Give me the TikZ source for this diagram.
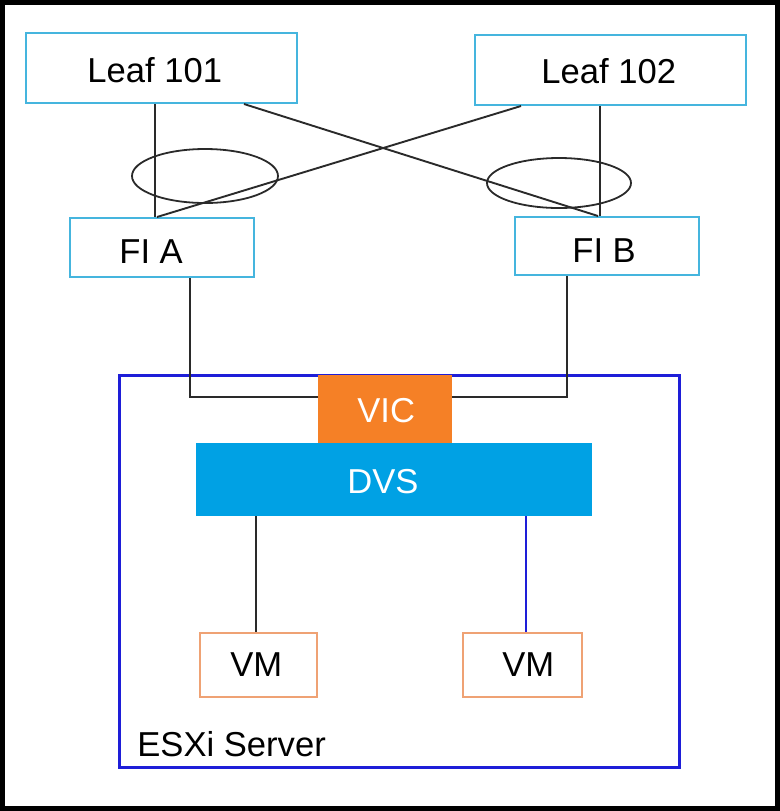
\documentclass[tikz,border=0pt]{standalone}
\usepackage{fontspec}
\setmainfont{Liberation Sans}
\definecolor{cyanbox}{HTML}{45B5DE}
\definecolor{vicorange}{HTML}{F58026}
\definecolor{dvsblue}{HTML}{00A1E4}
\definecolor{vmorange}{HTML}{EFA274}
\definecolor{esxiblue}{HTML}{1E1ED8}
\definecolor{wire}{HTML}{2A2A2A}
\begin{document}
\begin{tikzpicture}[x=0.5pt,y=-0.5pt,
  netbox/.style={draw=cyanbox, line width=1pt, inner sep=0pt},
  vmbox/.style={draw=vmorange, line width=0.8pt, inner sep=0pt},
  lbl/.style={anchor=base west, inner sep=0pt, font=\fontsize{17.3}{20}\selectfont},
  wireline/.style={draw=wire, line width=0.95pt}]
\useasboundingbox (0,0) rectangle (780,811);
\draw[line width=2.5pt] (2.5,2.5) rectangle (777.5,808.5);
% boxes
\node[netbox, minimum width=135.5pt, minimum height=35pt] (leaf101) at (161.5,68) {};
\node[netbox, minimum width=135.5pt, minimum height=35pt] (leaf102) at (610.5,70) {};
\node[netbox, minimum width=92pt, minimum height=29.5pt] (fia) at (162,247.5) {};
\node[netbox, minimum width=92pt, minimum height=29pt] (fib) at (607,246) {};
\node[draw=esxiblue, line width=1.5pt, inner sep=0pt, minimum width=280pt, minimum height=196pt] (esxi) at (399,571) {};
\node[vmbox, minimum width=58.5pt, minimum height=32pt] (vm1) at (258.5,665) {};
\node[vmbox, minimum width=59.5pt, minimum height=32pt] (vm2) at (522.5,665) {};
% helper coordinates
\coordinate (x155) at (155,0);
\coordinate (x157) at (157,0);
\coordinate (x244) at (244,0);
\coordinate (x521) at (521,0);
\coordinate (x598) at (598,0);
\coordinate (x600) at (600,0);
\coordinate (x190) at (190,0);
\coordinate (x567) at (567,0);
\coordinate (x256) at (256,0);
\coordinate (x526) at (526,0);
\coordinate (y397) at (0,397);
% ellipses
\draw[wire, line width=0.9pt] (205,176) ellipse [x radius=36.5pt, y radius=13.5pt];
\draw[wire, line width=0.9pt] (559,183) ellipse [x radius=36pt, y radius=12.5pt];
% connectors
\draw[wireline] (leaf101.south -| x155) -- (fia.north -| x155);
\draw[wireline] (leaf101.south -| x244) -- (fib.north -| x598);
\draw[wireline] (leaf102.south -| x600) -- (fib.north -| x600);
\draw[wireline] (leaf102.south -| x521) -- (fia.north -| x157);
\draw[wireline] (fia.south -| x190) |- (y397 -| 320,0);
\draw[wireline] (fib.south -| x567) |- (y397 -| 450,0);
% VIC and DVS
\node[fill=vicorange, inner sep=0pt, minimum width=67pt, minimum height=34pt] (vic) at (385,409) {};
\node[fill=dvsblue, inner sep=0pt, minimum width=198pt, minimum height=36.5pt] (dvs) at (394,479.5) {};
\draw[wireline] (dvs.south -| x256) -- (vm1.north -| x256);
\draw[draw=esxiblue, line width=0.6pt] (dvs.south -| x526) -- (vm2.north -| x526);
% labels
\node[lbl] (t101) at (87,82) {Leaf 101};
\node[lbl] (t102) at (541,83) {Leaf 102};
\node[lbl] (tfia) at (119,263) {FI A};
\node[lbl] (tfib) at (572,262) {FI B};
\node[lbl, text=white] (tvic) at (357,422) {VIC};
\node[lbl, text=white] (tdvs) at (347,493) {DVS};
\node[lbl] (tvm1) at (230,676) {VM};
\node[lbl] (tvm2) at (502,676) {VM};
\node[lbl] (tesxi) at (137,756) {ESXi Server};
\end{tikzpicture}
\end{document}
